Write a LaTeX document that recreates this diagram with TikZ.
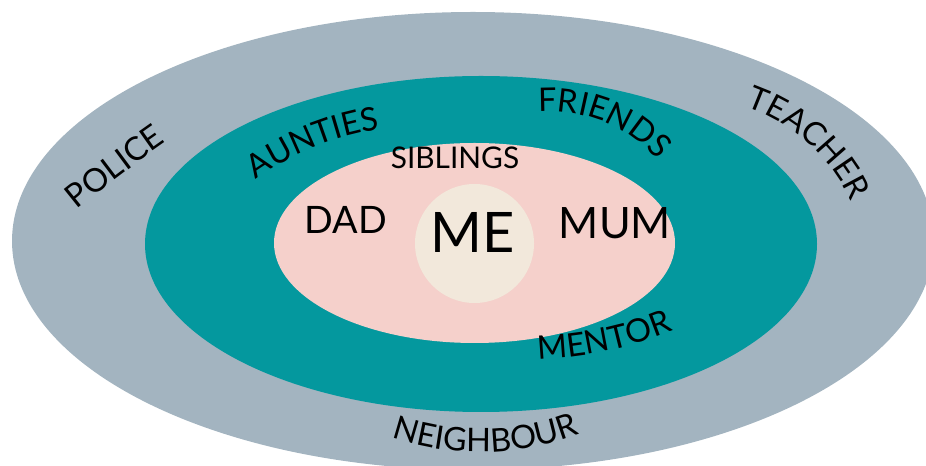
\documentclass[tikz,border=0pt]{standalone}
\usepackage{fontspec}
\setmainfont{Lato}
\usetikzlibrary{calc, decorations.text}

\definecolor{outergray}{HTML}{A3B4C0}
\definecolor{ringteal}{HTML}{04989E}
\definecolor{innerpink}{HTML}{F5D0CB}
\definecolor{mecream}{HTML}{F2E8DB}

\newcommand\ringfont{\fontsize{18.5}{21}\selectfont}

% text on an arc: mid point, tangent angle, radius, half span, text
\newcommand\toplabel[5]{%
  \path[decorate, decoration={text along path, text align=center, text={|\ringfont|#5}}]
    ($(#1)+({#2-90}:#3)+({#2+90+#4}:#3)$) arc[start angle={#2+90+#4}, end angle={#2+90-#4}, radius=#3];
}
\newcommand\botlabel[5]{%
  \path[decorate, decoration={text along path, text align=center, text={|\ringfont|#5}}]
    ($(#1)+({#2+90}:#3)+({#2-90-#4}:#3)$) arc[start angle={#2-90-#4}, end angle={#2-90+#4}, radius=#3];
}

\begin{document}
\begin{tikzpicture}[x=0.02cm, y=0.02cm]
  \useasboundingbox (0,0) rectangle (926,466);
  \clip (0,0) rectangle (926,466);

  % Rings
  \fill[outergray] (473,225) ellipse [x radius=461, y radius=229];
  \fill[ringteal] (481,222) ellipse [x radius=336, y radius=168];
  \fill[innerpink] (474.5,223) ellipse [x radius=200.5, y radius=100];
  \fill[mecream] (474.5,222.5) circle [radius=59.5];

  % Centre
  \node[font=\fontsize{31.8}{36}\selectfont] (me) at (473,234) {ME};
  \node[font=\fontsize{21.5}{24}\selectfont] (dad) at (346,246) {DAD};
  \node[font=\fontsize{24.6}{28}\selectfont] (mum) at (615,243) {MUM};
  \node[font=\fontsize{17}{20}\selectfont] (siblings) at (455,308) {SIBLINGS};

  % Ring labels
  \coordinate (police) at (121,291);
  \coordinate (aunties) at (315,319);
  \coordinate (friends) at (604,344);
  \coordinate (teacher) at (808,323);
  \coordinate (mentor) at (607,115);
  \coordinate (neighbour) at (486,14);

  \toplabel{police}{37}{1500}{9}{POLICE}
  \toplabel{aunties}{22}{282}{25}{AUNTIES}
  \toplabel{friends}{-22}{143}{50}{FRIENDS}
  \toplabel{teacher}{-42}{180}{40}{TEACHER}
  \botlabel{mentor}{12}{400}{20}{MENTOR}
  \botlabel{neighbour}{1}{280}{30}{NEIGHBOUR}
\end{tikzpicture}
\end{document}
